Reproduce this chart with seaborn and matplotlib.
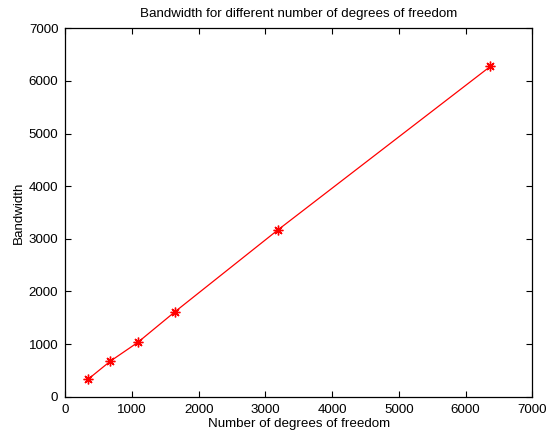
import matplotlib
matplotlib.use("Agg")
import matplotlib.pyplot as plt
import seaborn as sns
import pandas as pd

dof = [340, 675, 1085, 1640, 3193, 6370]
bandwidth = [330, 675, 1030, 1610, 3175, 6275]
xticks = [0, 1000, 2000, 3000, 4000, 5000, 6000, 7000]
yticks = [0, 1000, 2000, 3000, 4000, 5000, 6000, 7000]

sns.set_style("ticks")
plt.rcParams['font.family'] = ['Liberation Sans', 'DejaVu Sans']
plt.rcParams['text.color'] = 'black'
plt.rcParams['axes.labelcolor'] = 'black'

df = pd.DataFrame({"dof": dof, "bw": bandwidth})

fig = plt.figure(figsize=(5.48, 4.33), dpi=100)
ax = fig.add_axes([65.3 / 548, 1 - 396.7 / 433, (532.3 - 65.3) / 548, (396.7 - 28.3) / 433])
sns.lineplot(data=df, x="dof", y="bw", ax=ax, color="red", marker=(8, 2, 0),
             markersize=7, markeredgecolor="red", markerfacecolor="red",
             markeredgewidth=1.0, linewidth=0.9, estimator=None, sort=False)
ax.set_xlim(0, 7000)
ax.set_ylim(0, 7000)
ax.set_xticks(xticks)
ax.set_yticks(yticks)
ax.tick_params(direction="in", top=True, right=True, length=4, width=0.8,
               labelsize=9.6, colors="black", pad=5)
for s in ax.spines.values():
    s.set_visible(True)
    s.set_linewidth(0.9)
    s.set_color("black")
ax.set_xlabel("Number of degrees of freedom", fontsize=9.6, labelpad=1.5, color="black")
ax.set_ylabel("Bandwidth", fontsize=9.6, labelpad=3, color="black")
ax.set_title("Bandwidth for different number of degrees of freedom", fontsize=9.6, pad=8, color="black")
fig.savefig("out.png", dpi=100, facecolor="white")
